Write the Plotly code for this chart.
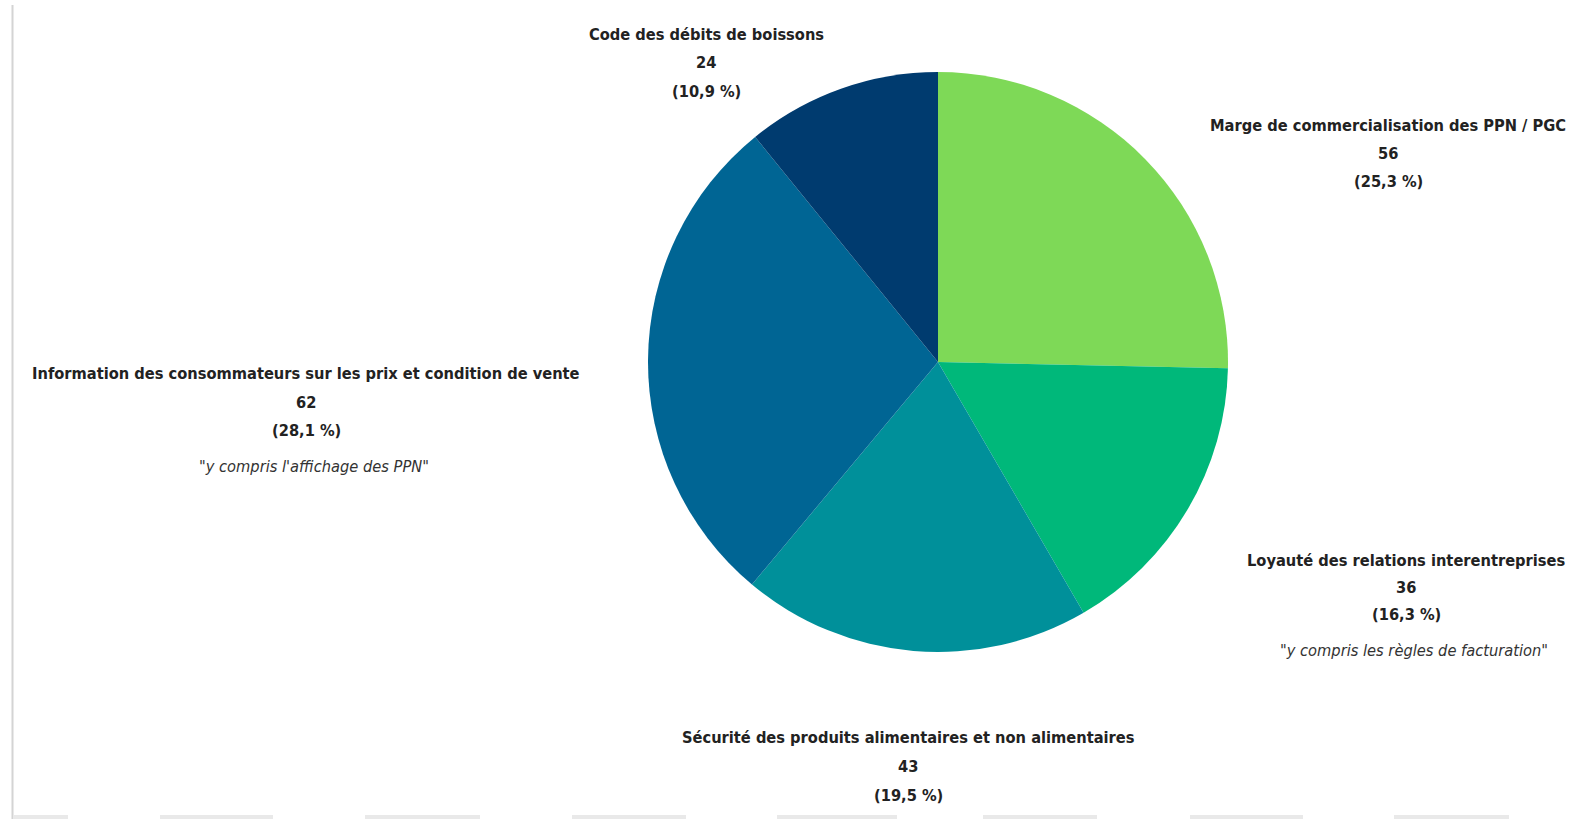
import plotly.graph_objects as go

W, H = 1583, 819

categories = [
    "Marge de commercialisation des PPN / PGC",
    "Loyauté des relations interentreprises",
    "Sécurité des produits alimentaires et non alimentaires",
    "Information des consommateurs sur les prix et condition de vente",
    "Code des débits de boissons",
]
values = [56, 36, 43, 62, 24]
percent_labels = ["25,3 %", "16,3 %", "19,5 %", "28,1 %", "10,9 %"]
notes = ["", "\"y compris les règles de facturation\"", "", "\"y compris l'affichage des PPN\"", ""]
colors = ["#7ED957", "#00B87A", "#00909A", "#006594", "#003B6F"]

# label anchor (centre x, y of first line) in pixels
label_pos = [(1388, 125), (1406, 560), (908, 737), (306, 374), (706, 35)]
line_gap = [28, 27, 29, 28, 28]

FONT = "DejaVu Sans Condensed, Liberation Sans Narrow, sans-serif"
TXT = "#222222"

cx, cy, r = 938, 362, 290

fig = go.Figure(go.Pie(
    labels=categories,
    values=values,
    sort=False,
    direction="clockwise",
    rotation=0,
    marker=dict(colors=colors, line=dict(width=0)),
    textinfo="none",
    hoverinfo="label+value+percent",
    showlegend=False,
    domain=dict(x=[(cx - r) / W, (cx + r) / W], y=[1 - (cy + r) / H, 1 - (cy - r) / H]),
))

def px(x):
    return x / W

def py(y):
    return 1 - y / H

annotations = []
for i, cat in enumerate(categories):
    x0, y0 = label_pos[i]
    g = line_gap[i]
    lines = [cat, str(values[i]), "(" + percent_labels[i] + ")"]
    for k, t in enumerate(lines):
        annotations.append(dict(
            x=px(x0), y=py(y0 + k * g), xref="paper", yref="paper",
            text="<b>" + t + "</b>", showarrow=False, xanchor="center", yanchor="middle",
            font=dict(family=FONT, size=16.3, color=TXT),
        ))
    if notes[i]:
        annotations.append(dict(
            x=px(x0 + 8), y=py(y0 + 2 * g + 36), xref="paper", yref="paper",
            text="<i>" + notes[i] + "</i>", showarrow=False, xanchor="center", yanchor="middle",
            font=dict(family=FONT, size=16.3, color="#333333"),
        ))

shapes = [dict(type="line", xref="paper", yref="paper", x0=px(12.5), x1=px(12.5), y0=py(5), y1=py(H),
               line=dict(color="#d4d4d4", width=2))]
segs = [(13, 68), (160, 273), (365, 480), (572, 686), (777, 897), (983, 1097), (1190, 1303), (1394, 1509)]
for a, b in segs:
    shapes.append(dict(type="rect", xref="paper", yref="paper", x0=px(a), x1=px(b), y0=py(H), y1=py(H - 4),
                       line=dict(width=0), fillcolor="#e9e9e9"))

fig.update_layout(
    width=W, height=H,
    margin=dict(l=0, r=0, t=0, b=0),
    paper_bgcolor="white", plot_bgcolor="white",
    annotations=annotations, shapes=shapes,
)

fig.write_html(
    "out.html",
    config={"displayModeBar": False},
    post_script="document.body.style.margin='0';document.body.style.overflow='hidden';",
)
